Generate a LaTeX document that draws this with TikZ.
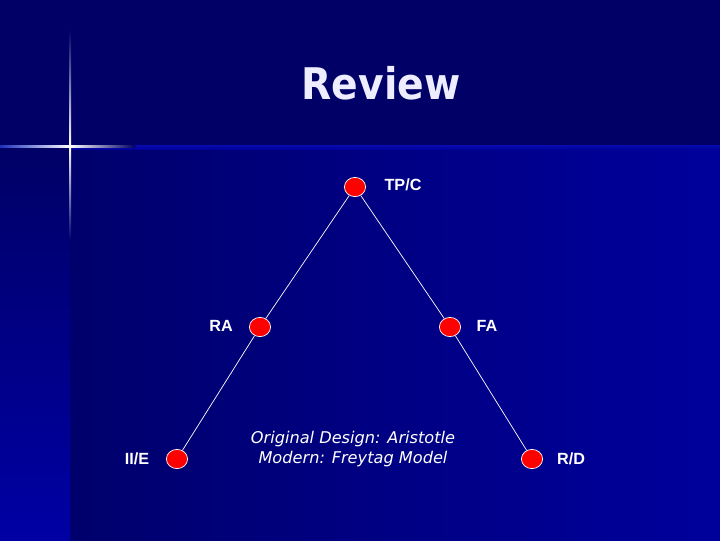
\documentclass[tikz,border=0pt]{standalone}
\usepackage{fontspec}
\usetikzlibrary{shapes.geometric}
\newfontfamily\titlefont[FakeStretch=0.9]{DejaVu Sans}
\newfontfamily\labelfont{Liberation Sans}
\newfontfamily\notefont{DejaVu Sans}
\definecolor{topnavy}{HTML}{000066}
\definecolor{darkblue}{HTML}{00006C}
\definecolor{brightblue}{HTML}{00009C}
\definecolor{stripblue}{HTML}{0000A4}
\definecolor{glowblue}{HTML}{3050F0}
\begin{document}
\begin{tikzpicture}[x=0.025cm,y=-0.025cm,
   stage/.style={ellipse,draw=white,line width=0.5pt,fill=red,minimum width=0.53cm,minimum height=0.48cm,inner sep=0pt},
   tag/.style={text=white,font=\labelfont\bfseries\fontsize{11.5}{13}\selectfont,inner sep=0pt,text depth=0pt},
   arc/.style={white,line width=0.5pt}]
   % background
   \useasboundingbox (0,0) rectangle (720,540);
   \fill[topnavy] (0,0) rectangle (720,146);
   \shade[left color=darkblue,right color=brightblue] (70,146) rectangle (720,540);
   \shade[top color=topnavy,bottom color=stripblue] (0,146) rectangle (70,540);
   \shade[top color=stripblue!85!glowblue,bottom color=brightblue] (70,145) rectangle (720,149);
   % sparkle
   \shade[top color=topnavy,bottom color=white] (69,30) rectangle (71,146);
   \shade[top color=white,bottom color=darkblue] (69,146) rectangle (71,240);
   \shade[left color=glowblue!60!topnavy,right color=white] (0,145) rectangle (70,147);
   \shade[left color=white,right color=topnavy] (70,145) rectangle (135,147);
   % title
   \node[text=white!93!blue,font=\titlefont\bfseries\fontsize{31}{36}\selectfont] (title) at (381,83) {Review};
   % stages
   \node[stage] (tpc) at (355,187) {};
   \node[stage] (ra) at (260,327) {};
   \node[stage] (fa) at (450,327) {};
   \node[stage] (iie) at (177,459) {};
   \node[stage] (rd) at (532,459) {};
   \draw[arc] (tpc)--(ra);
   \draw[arc] (tpc)--(fa);
   \draw[arc] (ra)--(iie);
   \draw[arc] (fa)--(rd);
   % labels
   \node[tag] (tpclabel) at (403,185) {TP/C};
   \node[tag] (ralabel) at (221,326) {RA};
   \node[tag] (falabel) at (487,326) {FA};
   \node[tag] (iielabel) at (137,459) {II/E};
   \node[tag] (rdlabel) at (571,459) {R/D};
   \node[text=white,align=center,font=\notefont\itshape\fontsize{11.5}{14.2}\selectfont] (note) at (353,449)
      {Original Design: Aristotle\\Modern: Freytag Model};
\end{tikzpicture}
\end{document}
